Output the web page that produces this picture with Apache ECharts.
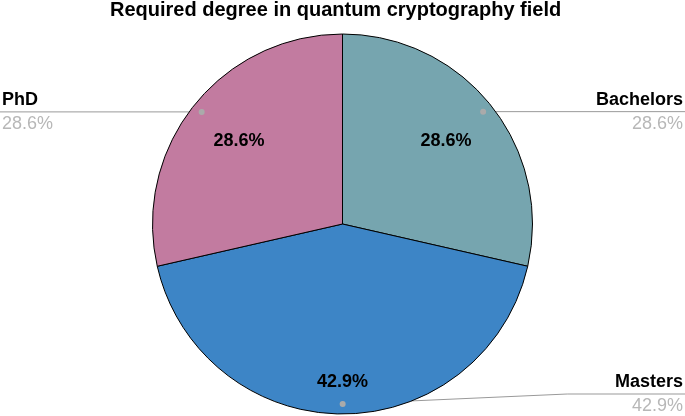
<!DOCTYPE html>
<html>
<head>
<meta charset="utf-8">
<script src="https://cdn.jsdelivr.net/npm/echarts@6/dist/echarts.min.js"></script>
<style>
html, body { margin: 0; padding: 0; background: #fff; }
#chart1 { width: 685px; height: 416px; }
</style>
</head>
<body>
<div id="chart1"></div>
<script>
// degree required, clockwise from 12 o'clock
var degrees = ["Bachelors", "Masters", "PhD"];
var counts = [2, 3, 2];
var sliceColors = ["#76a5af", "#3d85c6", "#c27ba0"];

var total = counts.reduce(function (a, b) { return a + b; }, 0);

// percentage text, one decimal
function pct(v) {
	return (v / total * 100).toFixed(1) + "%";
}

var chart = echarts.init(document.getElementById("chart1"));

var fontFam = "Arial, 'Liberation Sans', sans-serif";
var pieCenter = ["50%", 224];

var sliceData = [];
var ghostData = [];
for (let i = 0; i < degrees.length; i++) {
	sliceData.push({ name: degrees[i], value: counts[i], itemStyle: { color: sliceColors[i] } });
	ghostData.push({ name: degrees[i], value: counts[i] });
}

// inside labels sit further out on the big slice
var innerData = ghostData.map(function (d, i) {
	var o = { name: d.name, value: d.value };
	if (i === 1) o.label = { offset: [0, 26] };
	return o;
});

// masters leader line bends further right
var outerData = ghostData.map(function (d, i) {
	var o = { name: d.name, value: d.value };
	if (i === 1) o.labelLine = { length2: 0 };
	return o;
});

var ghostStyle = { color: "transparent", borderWidth: 0 };

var option = {
	animation: false,
	title: {
		text: "Required degree in quantum cryptography field",
		left: 110,
		top: 0,
		padding: 0,
		textStyle: { fontFamily: fontFam, fontSize: 20, fontWeight: "bold", color: "#000" }
	},
	series: [
		{
			// the slices
			type: "pie",
			center: pieCenter,
			radius: [0, 190],
			startAngle: 90,
			silent: true,
			label: { show: false },
			labelLine: { show: false },
			itemStyle: { borderColor: "#000", borderWidth: 1 },
			data: sliceData
		},
		{
			// percent inside each slice
			type: "pie",
			center: pieCenter,
			radius: [69, 190],
			startAngle: 90,
			silent: true,
			itemStyle: ghostStyle,
			label: {
				show: true,
				position: "inside",
				formatter: function (p) { return pct(p.value); },
				fontFamily: fontFam,
				fontSize: 18,
				fontWeight: "bold",
				color: "#000"
			},
			data: innerData
		},
		{
			// names with leader lines to the edges
			type: "pie",
			center: pieCenter,
			radius: [0, 180],
			startAngle: 90.05,
			silent: true,
			itemStyle: ghostStyle,
			avoidLabelOverlap: true,
			label: {
				show: true,
				position: "outside",
				alignTo: "edge",
				edgeDistance: 2,
				distanceToLabelLine: -300,
				formatter: function (p) {
					return "{n|" + p.name + "}\n{v|" + pct(p.value) + "}";
				},
				rich: {
					n: { fontFamily: fontFam, fontSize: 18, fontWeight: "bold", color: "#000", lineHeight: 24 },
					v: { fontFamily: fontFam, fontSize: 18, color: "#b7b7b7", lineHeight: 24 }
				}
			},
			labelLine: {
				show: true,
				length: 0,
				length2: 20,
				minTurnAngle: 0,
				maxSurfaceAngle: 92.5,
				lineStyle: { color: "#999", width: 1 }
			},
			data: outerData
		}
	]
};

chart.setOption(option);

// small dots where the leader lines start
var lineData = chart.getModel().getSeriesByIndex(2).getData();
var dots = [];
for (let i = 0; i < degrees.length; i++) {
	var lay = lineData.getItemLayout(i);
	var mid = (lay.startAngle + lay.endAngle) / 2;
	dots.push({
		type: "circle",
		z: 100,
		shape: { cx: lay.cx + lay.r * Math.cos(mid), cy: lay.cy + lay.r * Math.sin(mid), r: 3 },
		style: { fill: "#aaa" }
	});
}
chart.setOption({ graphic: dots });
</script>
</body>
</html>
